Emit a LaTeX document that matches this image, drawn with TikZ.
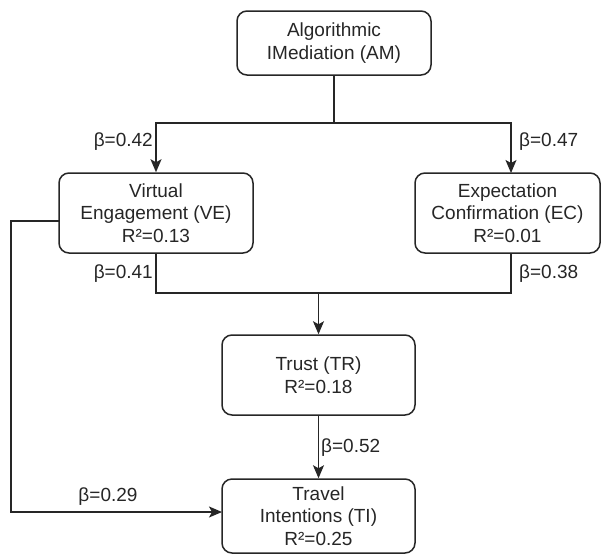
\documentclass[tikz,border=0pt]{standalone}
\usepackage{fontspec}
\setmainfont{Liberation Sans}
\usetikzlibrary{arrows.meta}
\definecolor{ink}{HTML}{262626}
\tikzset{
  box/.style={draw=ink, line width=1.5pt, rounded corners=10pt, align=center,
    text=ink, font=\fontsize{19}{22.5}\selectfont, inner sep=0pt},
  lbl/.style={text=ink, font=\fontsize{19}{22.5}\selectfont, inner sep=0pt},
  conn/.style={draw=ink, line width=1.4pt},
  arr/.style={conn, -{Stealth[length=13pt,width=11pt,inset=3pt]}}
}
\begin{document}
\begin{tikzpicture}[x=1pt,y=-1pt]
\useasboundingbox (0,0) rectangle (601,554);
\node[box, minimum width=194pt, minimum height=64pt] (AM) at (334,43) {Algorithmic\\IMediation (AM)};
\node[box, minimum width=194pt, minimum height=80pt] (VE) at (156,213) {Virtual\\Engagement (VE)\\R²=0.13};
\node[box, minimum width=185pt, minimum height=80pt] (EC) at (507.5,213) {Expectation\\Confirmation (EC)\\R²=0.01};
\node[box, minimum width=193pt, minimum height=80pt] (TR) at (318.5,375) {Trust (TR)\\R²=0.18};
\node[box, minimum width=193pt, minimum height=74pt] (TI) at (318.5,516) {Travel\\Intentions (TI)\\R²=0.25};

\coordinate (j1) at (334,123);
\coordinate (ecin) at (511,173);
\coordinate (ecout) at (511,253);
\coordinate (j2) at (318.5,293);
\coordinate (vel) at (59,221);
\coordinate (til) at (222,512);

\draw[conn] (AM.south) -- (j1);
\draw[arr] (j1) -| (VE.north);
\draw[arr] (j1) -| (ecin);
\draw[conn] (VE.south) |- (j2) -| (ecout);
\draw[arr] (j2) -- (TR.north);
\draw[arr] (TR.south) -- (TI.north);
\draw[arr] (vel) -- (11,221) |- (til);

\node[lbl, anchor=east] (l1) at (153,142) {β=0.42};
\node[lbl, anchor=west] (l2) at (519,142) {β=0.47};
\node[lbl, anchor=east] (l3) at (153,274) {β=0.41};
\node[lbl, anchor=west] (l4) at (519,274) {β=0.38};
\node[lbl, anchor=west] (l5) at (321,448) {β=0.52};
\node[lbl] (l6) at (108,497) {β=0.29};
\end{tikzpicture}
\end{document}
